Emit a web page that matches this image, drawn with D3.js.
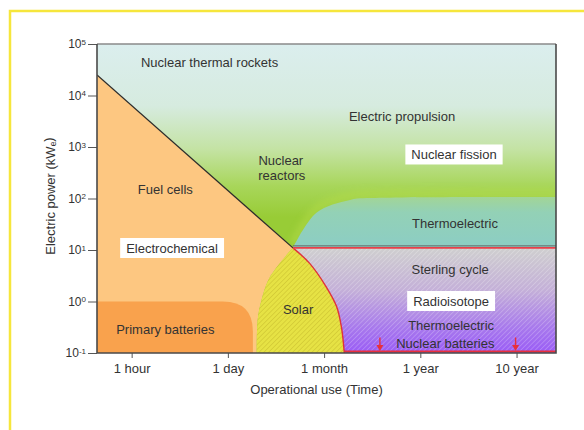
<!DOCTYPE html>
<html>
<head>
<meta charset="utf-8">
<script src="https://cdn.jsdelivr.net/npm/d3@7"></script>
<style>
  body { margin: 0; background: #fff; }
  svg { display: block; }
  text { font-family: "Liberation Sans", Arial, sans-serif; fill: #333; }
</style>
</head>
<body>
<svg id="chart" width="584" height="430"></svg>
<script>
// Operational-use categories along the time axis (evenly spaced, index units)
const timeTicks = ["1 hour", "1 day", "1 month", "1 year", "10 year"];
const timeExtent = [-0.36, 4.41];

// Electric power axis, kWe, decades 10^-1 … 10^5
const powerExponents = [-1, 0, 1, 2, 3, 4, 5];

// Region boundaries as [time index, kWe]
const fuelCellLimit = [[-0.36, 25000], [1.676, 11]];
const solarRight = [[1.676, 11], [1.85, 5.5], [2.02, 1.95], [2.13, 0.8], [2.18, 0.32], [2.21, 0.1]];
const solarLeft = [[1.676, 11], [1.54, 5.5], [1.42, 2.6], [1.35, 1.07], [1.31, 0.44], [1.30, 0.1]];
const thermoelectricTop = [[1.676, 11], [1.92, 53], [2.27, 94], [2.58, 103], [4.41, 107]];
const radioisotopeTop = 11;
const primaryBatteryEdge = [1.26, 1.0];
const nuclearBatteryRange = [2.21, 4.41];
const nuclearBatteryArrows = [2.58, 3.99];

// Region labels anchored in data space: [text, time index, kWe, boxed]
const regionLabels = [
  ["Nuclear thermal rockets", 0.81, 44000, false],
  ["Electric propulsion", 2.81, 3900, false],
  ["Nuclear fission", 3.35, 700, true],
  ["Nuclear", 1.55, 548, false],
  ["reactors", 1.56, 280, false],
  ["Fuel cells", 0.35, 148, false],
  ["Electrochemical", 0.42, 10.7, true],
  ["Primary batteries", 0.35, 0.28, false],
  ["Solar", 1.73, 0.69, false],
  ["Thermoelectric", 3.36, 32, false],
  ["Sterling cycle", 3.31, 4.1, false],
  ["Radioisotope", 3.32, 1.0, true],
  ["Thermoelectric", 3.32, 0.34, false],
  ["Nuclear batteries", 3.26, 0.15, false]
];

const svg = d3.select("#chart");
const plot = { left: 97, right: 556, top: 44, bottom: 353 };

const x = d3.scaleLinear().domain(timeExtent).range([plot.left, plot.right]);
const y = d3.scaleLog().domain([0.1, 1e5]).range([plot.bottom, plot.top]);

const curve = d3.line().x(d => x(d[0])).y(d => y(d[1])).curve(d3.curveCatmullRom.alpha(0.5));
const P = (t, p) => `${x(t)},${y(p)}`;

// outer yellow frame
svg.append("rect").attr("x", 10).attr("y", 11).attr("width", 600).attr("height", 440)
  .attr("fill", "none").attr("stroke", "#f6e63c").attr("stroke-width", 2.5);

const defs = svg.append("defs");

function gradient(id, stops) {
  const g = defs.append("linearGradient").attr("id", id)
    .attr("x1", 0).attr("y1", 0).attr("x2", 0).attr("y2", 1);
  stops.forEach(([o, c]) => g.append("stop").attr("offset", o).attr("stop-color", c));
}
gradient("sky", [[0, "#dbeeee"], [0.2, "#d6ebdf"], [0.34, "#c4e3a4"], [0.46, "#a8d65a"], [0.56, "#98cc36"], [1, "#98cc36"]]);
gradient("teal", [[0, "#a2d596"], [0.3, "#93d1b6"], [1, "#8ccdc4"]]);
gradient("isotope", [[0, "#cfcfcf"], [0.4, "#c4b0d8"], [0.75, "#a87aec"], [1, "#9a5cf6"]]);

function hatch(id, bg, line, w) {
  const p = defs.append("pattern").attr("id", id).attr("patternUnits", "userSpaceOnUse")
    .attr("width", 3.4).attr("height", 3.4).attr("patternTransform", "rotate(45)");
  if (bg) p.append("rect").attr("width", 3.4).attr("height", 3.4).attr("fill", bg);
  p.append("line").attr("x1", 0).attr("y1", 0).attr("x2", 0).attr("y2", 3.4)
    .attr("stroke", line).attr("stroke-width", w);
}
hatch("solarHatch", "#e6e244", "#c4b82a", 0.9);
hatch("greyHatch", null, "rgba(255,255,255,0.35)", 1.1);

const glow = defs.append("filter").attr("id", "glow").attr("x", "-10%").attr("y", "-50%").attr("width", "120%").attr("height", "200%");
glow.append("feGaussianBlur").attr("stdDeviation", 3);

const clip = defs.append("clipPath").attr("id", "plotClip");
clip.append("rect").attr("x", plot.left).attr("y", plot.top)
  .attr("width", plot.right - plot.left).attr("height", plot.bottom - plot.top);

const g = svg.append("g").attr("clip-path", "url(#plotClip)");

// sky → green background (nuclear reactors / propulsion)
g.append("rect").attr("x", plot.left).attr("y", plot.top)
  .attr("width", plot.right - plot.left).attr("height", plot.bottom - plot.top)
  .attr("fill", "url(#sky)");

// soft highlight above the thermoelectric band
g.append("path").attr("d", curve(thermoelectricTop))
  .attr("fill", "none").attr("stroke", "#b4dc48").attr("stroke-width", 7)
  .attr("opacity", 0.55).attr("filter", "url(#glow)")
  .attr("transform", "translate(0,-4)");

// thermoelectric band (nuclear fission)
g.append("path")
  .attr("d", curve(thermoelectricTop) + `L${P(timeExtent[1], radioisotopeTop)}Z`)
  .attr("fill", "url(#teal)");

// radioisotope region
const isoPath = curve(solarRight) + `L${P(timeExtent[1], 0.1)}L${P(timeExtent[1], radioisotopeTop)}Z`;
g.append("path").attr("d", isoPath).attr("fill", "url(#isotope)");
g.append("path").attr("d", isoPath).attr("fill", "url(#greyHatch)");

// electrochemical region (fuel cells)
g.append("path")
  .attr("d", curve(solarLeft) + `L${P(timeExtent[0], 0.1)}L${P(...fuelCellLimit[0])}Z`)
  .attr("fill", "#fdc781");

// primary batteries with a rounded upper-right corner
{
  const x0 = x(timeExtent[0]), x1 = x(primaryBatteryEdge[0]);
  const yT = y(primaryBatteryEdge[1]), yB = y(0.1), r = 30;
  g.append("path")
    .attr("d", `M${x0},${yB}L${x0},${yT}L${x1 - r},${yT}Q${x1},${yT} ${x1},${yT + r}L${x1},${yB}Z`)
    .attr("fill", "#f9a24d");
}

// solar region
g.append("path")
  .attr("d", curve(solarLeft) + curve(solarRight.slice().reverse()).replace(/^M/, "L") + "Z")
  .attr("fill", "url(#solarHatch)");

// boundaries
g.append("path").attr("d", curve(fuelCellLimit))
  .attr("fill", "none").attr("stroke", "#2b2b2b").attr("stroke-width", 1.3);
g.append("path").attr("d", curve(solarRight))
  .attr("fill", "none").attr("stroke", "#e0323c").attr("stroke-width", 1.4);
g.append("line")
  .attr("x1", x(fuelCellLimit[1][0])).attr("x2", x(timeExtent[1]))
  .attr("y1", y(radioisotopeTop) - 2).attr("y2", y(radioisotopeTop) - 2)
  .attr("stroke", "#666").attr("stroke-width", 1);
g.append("line")
  .attr("x1", x(fuelCellLimit[1][0])).attr("x2", x(timeExtent[1]))
  .attr("y1", y(radioisotopeTop)).attr("y2", y(radioisotopeTop))
  .attr("stroke", "#e8404a").attr("stroke-width", 1.8);
g.append("line")
  .attr("x1", x(nuclearBatteryRange[0])).attr("x2", x(nuclearBatteryRange[1]))
  .attr("y1", y(0.1) - 1.5).attr("y2", y(0.1) - 1.5)
  .attr("stroke", "#e8303c").attr("stroke-width", 2);

// nuclear battery arrows
nuclearBatteryArrows.forEach(t => {
  const cx = x(t), top = y(0.2), tip = y(0.1) - 2;
  g.append("line").attr("x1", cx).attr("x2", cx).attr("y1", top).attr("y2", tip - 4)
    .attr("stroke", "#e8303c").attr("stroke-width", 1.4);
  g.append("path").attr("d", `M${cx - 3.5},${tip - 6}L${cx + 3.5},${tip - 6}L${cx},${tip}Z`)
    .attr("fill", "#e8303c");
});

// labels
const labelG = svg.append("g");
regionLabels.forEach(([txt, t, p, boxed]) => {
  const lg = labelG.append("g");
  const el = lg.append("text").attr("x", x(t)).attr("y", y(p))
    .attr("text-anchor", "middle").attr("dominant-baseline", "central")
    .attr("font-size", 13).text(txt);
  if (boxed) {
    const b = el.node().getBBox();
    lg.insert("rect", "text").attr("x", b.x - 6).attr("y", b.y - 3)
      .attr("width", b.width + 12).attr("height", b.height + 5).attr("fill", "#fff");
  }
});

// axes
const yAxis = svg.append("g").attr("transform", `translate(${plot.left},0)`)
  .call(d3.axisLeft(y).tickValues(powerExponents.map(e => Math.pow(10, e)))
    .tickSize(9).tickSizeOuter(0).tickPadding(2).tickFormat(() => ""));
yAxis.select(".domain").remove();
yAxis.selectAll(".tick line").attr("stroke", "#555");
yAxis.selectAll(".tick text").each(function (d) {
  const e = Math.round(Math.log10(d));
  const t = d3.select(this).attr("font-size", 12).attr("fill", "#333")
    .attr("font-family", "Liberation Sans, Arial, sans-serif");
  t.append("tspan").text("10");
  t.append("tspan").attr("dy", "-0.45em").attr("font-size", 8).text(String(e));
});

const xAxis = svg.append("g").attr("transform", `translate(0,${plot.bottom})`)
  .call(d3.axisBottom(x).tickValues(d3.range(timeTicks.length))
    .tickSize(5).tickSizeOuter(0).tickPadding(6).tickFormat(i => timeTicks[i]));
xAxis.select(".domain").remove();
xAxis.selectAll(".tick line").attr("stroke", "#555");
xAxis.selectAll(".tick text").attr("font-size", 13).attr("fill", "#333")
  .attr("font-family", "Liberation Sans, Arial, sans-serif");

// plot frame
svg.append("line").attr("x1", plot.left).attr("x2", plot.right).attr("y1", plot.top).attr("y2", plot.top)
  .attr("stroke", "#8a8a8a").attr("stroke-width", 1.5);
svg.append("path")
  .attr("d", `M${plot.right},${plot.top}L${plot.right},${plot.bottom}L${plot.left},${plot.bottom}L${plot.left},${plot.top}`)
  .attr("fill", "none").attr("stroke", "#4a4a4a").attr("stroke-width", 1.6);

// axis titles
svg.append("text").attr("x", (plot.left + plot.right) / 2 - 10).attr("y", 389)
  .attr("text-anchor", "middle").attr("dominant-baseline", "central")
  .attr("font-size", 13).text("Operational use (Time)");

const yt = svg.append("text").attr("transform", "translate(50,196) rotate(-90)")
  .attr("text-anchor", "middle").attr("dominant-baseline", "central").attr("font-size", 13);
yt.append("tspan").text("Electric power (kW");
yt.append("tspan").attr("font-size", 8.5).attr("dy", "0.35em").text("e");
yt.append("tspan").attr("dy", "-0.35em").text(")");
</script>
</body>
</html>
